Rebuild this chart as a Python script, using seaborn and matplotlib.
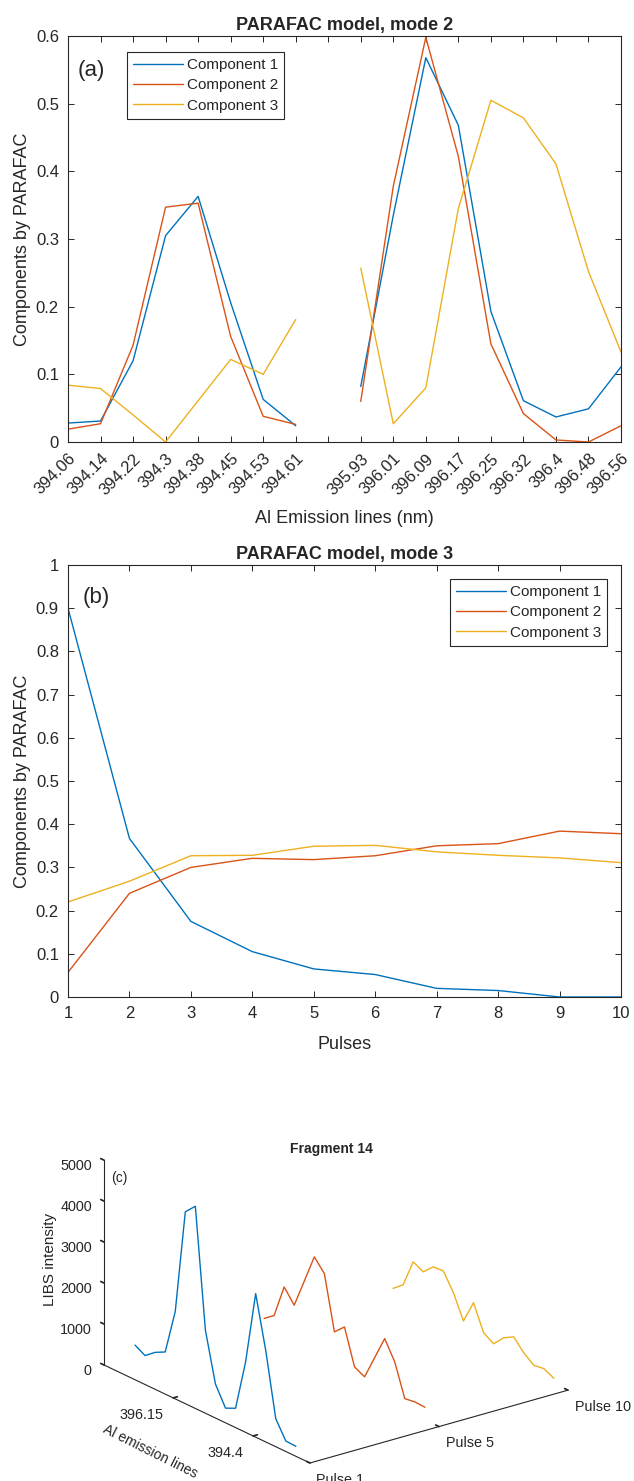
import numpy as np
import pandas as pd
import matplotlib
matplotlib.use("Agg")
import matplotlib.pyplot as plt
import seaborn as sns

# ---- PARAFAC mode 2: loadings on the Al emission lines (gap between the two line groups)
emission_labels = ["394.06", "394.14", "394.22", "394.3", "394.38", "394.45",
                   "394.53", "394.61", "", "395.93", "396.01", "396.09",
                   "396.17", "396.25", "396.32", "396.4", "396.48", "396.56"]
mode2_comp1 = [0.028, 0.031, 0.120, 0.305, 0.363, 0.206, 0.063, 0.024, np.nan,
               0.082, 0.335, 0.568, 0.468, 0.193, 0.061, 0.037, 0.049, 0.111]
mode2_comp2 = [0.019, 0.027, 0.143, 0.347, 0.353, 0.156, 0.038, 0.026, np.nan,
               0.060, 0.378, 0.598, 0.422, 0.145, 0.042, 0.003, 0.000, 0.024]
mode2_comp3 = [0.084, 0.079, 0.040, 0.000, 0.061, 0.122, 0.100, 0.181, np.nan,
               0.257, 0.027, 0.080, 0.345, 0.505, 0.479, 0.411, 0.252, 0.133]

# ---- PARAFAC mode 3: loadings on the laser pulses
pulses = [1, 2, 3, 4, 5, 6, 7, 8, 9, 10]
mode3_comp1 = [0.900, 0.367, 0.175, 0.105, 0.065, 0.052, 0.020, 0.015, 0.000, 0.000]
mode3_comp2 = [0.057, 0.240, 0.300, 0.321, 0.318, 0.327, 0.350, 0.355, 0.384, 0.378]
mode3_comp3 = [0.220, 0.268, 0.327, 0.328, 0.349, 0.351, 0.336, 0.328, 0.322, 0.311]

# ---- raw LIBS spectra of fragment 14 (17 emission lines, long wavelengths first)
spectrum_pulse1 = [846, 707, 902, 1028, 2130, 4683, 4935, 2028, 829, 358,
                   472, 1720, 3504, 2236, 683, 256, 244]
spectrum_pulse5 = [607, 797, 1610, 1281, 1984, 2694, 2403, 1097, 1333, 476,
                   350, 935, 1517, 1065, 285, 322, 309]
spectrum_pulse10 = [452, 657, 1333, 1206, 1444, 1462, 1049, 474, 1037, 421,
                    268, 530, 671, 397, 211, 244, 126]
pulse_labels = ["Pulse 1", "Pulse 5", "Pulse 10"]
emission_tick_labels = ["396.15", "394.4"]

components = ["Component 1", "Component 2", "Component 3"]
colors = ["#0072BD", "#D95319", "#EDB120"]
axis_grey = "#262626"

sns.set_theme(style="ticks")
plt.rcParams["font.family"] = ["Liberation Sans", "DejaVu Sans"]
plt.rcParams["axes.edgecolor"] = axis_grey
plt.rcParams["axes.linewidth"] = 0.8
plt.rcParams["text.color"] = axis_grey
plt.rcParams["axes.labelcolor"] = axis_grey
plt.rcParams["xtick.color"] = axis_grey
plt.rcParams["ytick.color"] = axis_grey

W, H = 634, 1481
fig = plt.figure(figsize=(W / 100, H / 100), dpi=100)


def rect(left, top, right, bottom):
    return [left / W, 1 - bottom / H, (right - left) / W, (bottom - top) / H]


def style_box(ax):
    ax.tick_params(direction="in", length=4.5, width=0.7, top=True, right=True,
                   labelsize=12, pad=6.5)
    for s in ax.spines.values():
        s.set_visible(True)
        s.set_color(axis_grey)
        s.set_linewidth(0.8)


def legend_box(ax, loc, anchor):
    sns.move_legend(ax, loc=loc, bbox_to_anchor=anchor, title=None, frameon=True,
                    fancybox=False, fontsize=11, handlelength=3.27,
                    handletextpad=0.25, borderpad=0.4, labelspacing=0.42,
                    borderaxespad=0)
    leg = ax.get_legend()
    leg.get_frame().set_edgecolor(axis_grey)
    leg.get_frame().set_linewidth(0.8)
    leg.get_frame().set_alpha(1)
    for h in leg.legend_handles:
        h.set_linewidth(1.0)


# ------------------------------------------------------------------ (a)
positions = np.arange(1, len(emission_labels) + 1)
rows = []
for comp, vals in zip(components, [mode2_comp1, mode2_comp2, mode2_comp3]):
    vals = np.asarray(vals, dtype=float)
    segment = np.cumsum(np.isnan(vals))
    for p, v, s in zip(positions, vals, segment):
        if not np.isnan(v):
            rows.append({"line": p, "loading": v, "component": comp, "segment": s})
df_a = pd.DataFrame(rows)

ax_a = fig.add_axes(rect(68, 36, 621, 442))
sns.lineplot(data=df_a, x="line", y="loading", hue="component", units="segment",
             estimator=None, palette=colors, linewidth=1.0, ax=ax_a)
ax_a.set_xlim(1, len(emission_labels))
ax_a.set_ylim(0, 0.6)
ax_a.set_xticks(positions)
ax_a.set_xticklabels(emission_labels, rotation=45, ha="right", va="top",
                     rotation_mode="anchor")
ax_a.set_yticks(np.arange(0, 0.61, 0.1))
ax_a.set_yticklabels(["0", "0.1", "0.2", "0.3", "0.4", "0.5", "0.6"])
style_box(ax_a)
ax_a.set_title("PARAFAC model, mode 2", fontsize=13, fontweight="bold", pad=4)
ax_a.set_xlabel("Al Emission lines (nm)", fontsize=13, labelpad=8.5)
ax_a.set_ylabel("Components by PARAFAC", fontsize=13, labelpad=3.5)
ax_a.text(0.018, 0.916, "(a)", transform=ax_a.transAxes, fontsize=16,
          ha="left", va="center")
legend_box(ax_a, "upper left", (0.107, 0.961))

# ------------------------------------------------------------------ (b)
df_b = pd.DataFrame({
    "pulse": pulses * 3,
    "loading": mode3_comp1 + mode3_comp2 + mode3_comp3,
    "component": np.repeat(components, len(pulses)),
})
ax_b = fig.add_axes(rect(68, 565, 621, 997))
sns.lineplot(data=df_b, x="pulse", y="loading", hue="component",
             palette=colors, linewidth=1.0, ax=ax_b)
ax_b.set_xlim(1, 10)
ax_b.set_ylim(0, 1)
ax_b.set_xticks(pulses)
ax_b.set_yticks(np.arange(0, 1.01, 0.1))
ax_b.set_yticklabels(["0", "0.1", "0.2", "0.3", "0.4", "0.5", "0.6", "0.7",
                      "0.8", "0.9", "1"])
style_box(ax_b)
ax_b.set_title("PARAFAC model, mode 3", fontsize=13, fontweight="bold", pad=4)
ax_b.set_xlabel("Pulses", fontsize=13, labelpad=10.5)
ax_b.set_ylabel("Components by PARAFAC", fontsize=13, labelpad=3.5)
ax_b.text(0.027, 0.924, "(b)", transform=ax_b.transAxes, fontsize=16,
          ha="left", va="center")
legend_box(ax_b, "upper right", (0.975, 0.968))

# ------------------------------------------------------------------ (c)
ax_c = fig.add_axes([0.1226, -0.0354, 0.7934, 0.3396], projection="3d")
ax_c.set_facecolor("none")
ax_c.set_proj_type("ortho")
ax_c.view_init(elev=21.5, azim=-37.6)
ax_c.set_box_aspect((1.036, 1, 0.676))
line_index = np.arange(1, len(spectrum_pulse1) + 1)
for k, (spec, col) in enumerate(zip([spectrum_pulse1, spectrum_pulse5,
                                     spectrum_pulse10], colors)):
    ax_c.plot(line_index, np.full(len(spec), k + 1), spec, color=col, lw=1.0)
ax_c.set_xlim(-2.08, 18.4)
ax_c.set_ylim(1, 3)
ax_c.set_zlim(0, 5000)
ax_c.set_xticks([4.8, 12.75])
ax_c.set_xticklabels(emission_tick_labels)
ax_c.set_yticks([1, 2, 3])
ax_c.set_yticklabels(pulse_labels)
ax_c.set_zticks(np.arange(0, 5001, 1000))
ax_c.grid(False)
# vertical axis on the left-hand edge of the box
ax_c.zaxis._axinfo["juggled"] = (1, 2, 0)
for axis in (ax_c.xaxis, ax_c.yaxis, ax_c.zaxis):
    axis.set_pane_color((1, 1, 1, 0))
    axis.pane.set_edgecolor("none")
    axis.line.set_color(axis_grey)
    axis.line.set_linewidth(0.8)
    axis._axinfo["tick"]["inward_factor"] = 0.0
    axis._axinfo["tick"]["outward_factor"] = 0.2
ax_c.tick_params(labelsize=10.4, colors=axis_grey)
ax_c.xaxis.set_tick_params(pad=-1)
ax_c.yaxis.set_tick_params(pad=-2)
ax_c.zaxis.set_tick_params(pad=-3)
for t in ax_c.get_xticklabels():
    t.set_ha("right")
for t in ax_c.get_yticklabels():
    t.set_ha("left")
for t in ax_c.get_zticklabels():
    t.set_ha("right")
ax_c.set_zlabel("LIBS intensity", fontsize=11, labelpad=1)
fig.text(150 / W, 1 - 1452 / H, "Al emission lines", fontsize=10, rotation=-26.5,
         rotation_mode="anchor", ha="center", va="center")
fig.text(331 / W, 1 - 1149 / H, "Fragment 14", fontsize=10, fontweight="bold",
         ha="center", va="center")
fig.text(111 / W, 1 - 1178 / H, "(c)", fontsize=10, ha="left", va="center")

fig.savefig("out.png", dpi=100)
